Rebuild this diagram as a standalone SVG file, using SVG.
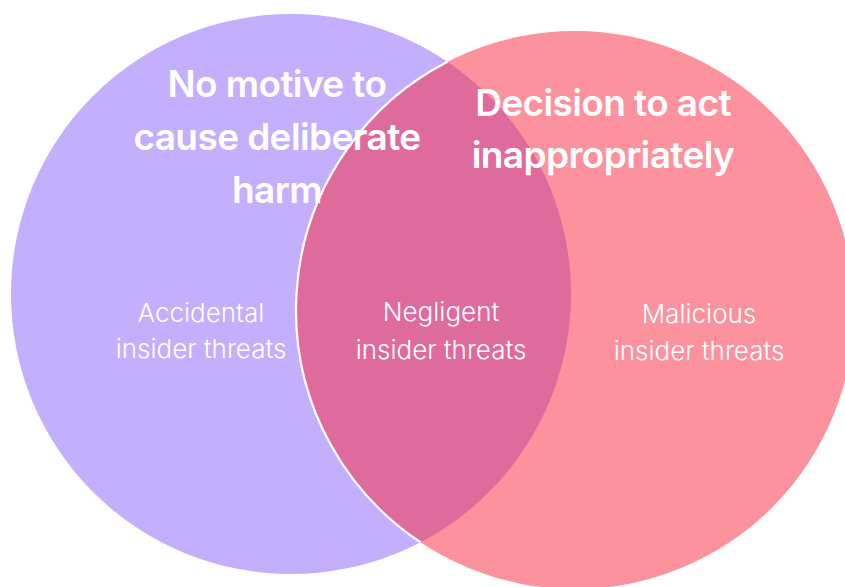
<svg xmlns="http://www.w3.org/2000/svg" width="845" height="587" viewBox="0 0 845 587">
  <style>
    .head { font-family: Inter, "Noto Sans", "Liberation Sans", sans-serif; font-weight: 600; font-size: 37px; fill: #ffffff; text-anchor: middle; letter-spacing: -0.6px; }
    .lbl { font-family: Inter, "Noto Sans", "Liberation Sans", sans-serif; font-weight: 300; font-size: 26px; fill: #ffffff; text-anchor: middle; }
  </style>
  <rect width="845" height="587" fill="#ffffff"/>
  <g id="accidental">
    <circle cx="291" cy="294" r="280" fill="#C4AFFD"/>
  </g>
  <g id="malicious">
    <circle cx="575" cy="310" r="279" fill="#FC929E"/>
  </g>
  <g id="negligent">
    <path d="M447.51,61.84 A280,280 0 0,1 420.45,542.28 A279,279 0 0,1 447.51,61.84 Z" fill="#DF6B9D"/>
    <path d="M420.45,542.28 A279,279 0 0,1 447.51,61.84" fill="none" stroke="#ffffff" stroke-width="2.2"/>
  </g>
  <g id="connectors"/>
  <g id="labels">
    <text class="head" x="277" y="97">No motive to</text>
    <text class="head" x="277" y="150">cause deliberate</text>
    <text class="head" x="277" y="203">harm</text>
    <text class="head" x="603" y="116">Decision to act</text>
    <text class="head" x="603" y="168">inappropriately</text>
    <text class="lbl" x="201" y="322">Accidental</text>
    <text class="lbl" x="201" y="358">insider threats</text>
    <text class="lbl" x="441" y="321">Negligent</text>
    <text class="lbl" x="441" y="359">insider threats</text>
    <text class="lbl" x="699" y="323">Malicious</text>
    <text class="lbl" x="699" y="360">insider threats</text>
  </g>
</svg>
